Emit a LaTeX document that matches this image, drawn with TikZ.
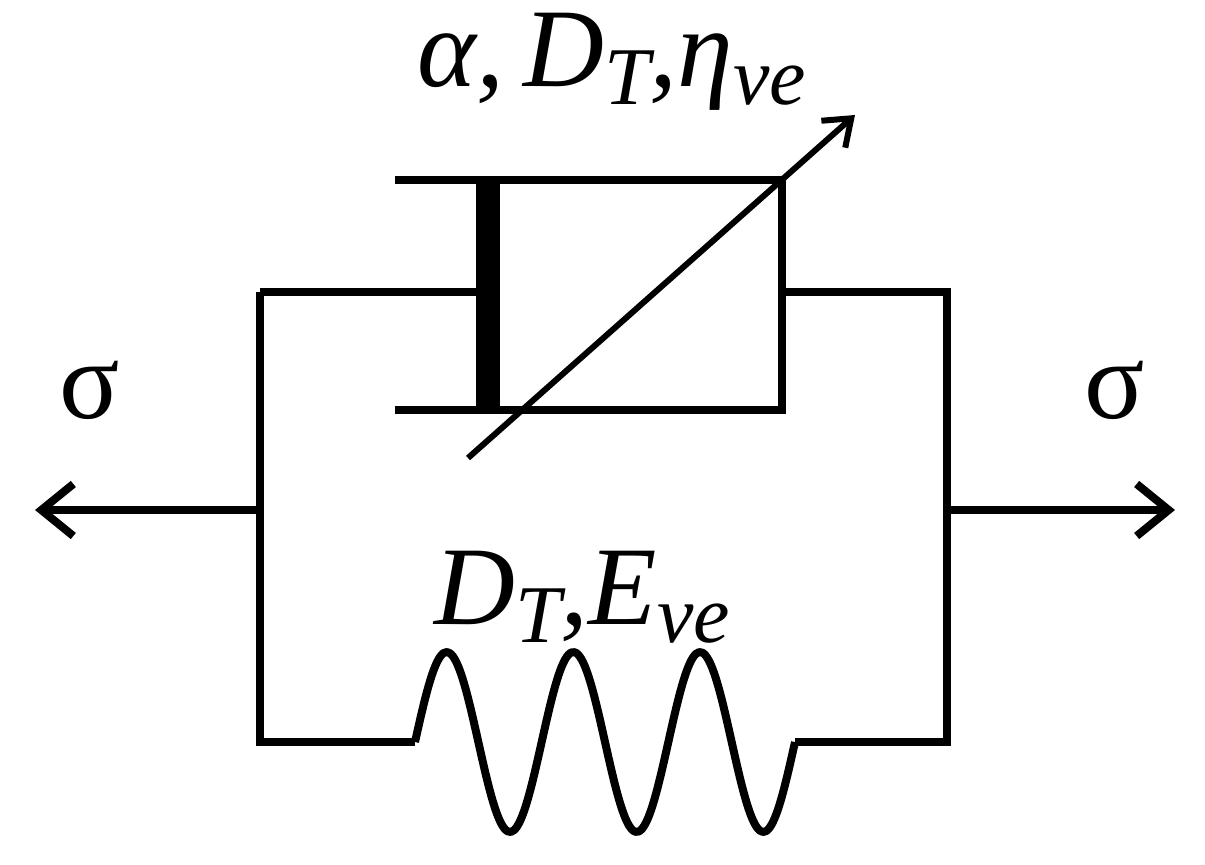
\documentclass[tikz,border=0pt]{standalone}
\usepackage{fontspec}
\setmainfont{Liberation Serif}
\usetikzlibrary{arrows.meta}
\begin{document}
\begin{tikzpicture}[x=0.5pt,y=-0.5pt,line width=4pt,line join=miter]
	\tikzstyle{wire}=[draw=black]
	\tikzstyle{force}=[-{Straight Barb[length=16pt,width=26pt,line width=4pt]}]
	\tikzstyle{lbl}=[font=\fontsize{56}{58}\selectfont, inner sep=0pt]
	\def\sub#1{\raisebox{-0.35ex}{\fontsize{41}{43}\selectfont #1}}
	
	\useasboundingbox (0,0) rectangle (1205,865);
	
	% nodes of the frame
	\coordinate (tl) at (260,292);
	\coordinate (bl) at (260,742);
	\coordinate (tr) at (947,292);
	\coordinate (br) at (947,742);
	\coordinate (pl) at (476,292);
	\coordinate (cr) at (782,292);
	\coordinate (sl) at (415,742);
	\coordinate (sr) at (795,742);
	\coordinate (ml) at (260,510);
	\coordinate (mr) at (947,510);
	\coordinate (al) at (35,510);
	\coordinate (ar) at (1175,510);
	
	% dashpot
	\draw[wire] (tl) -- (pl);
	\fill (476,176) rectangle (500,414);
	\draw[wire] (395,180) -- (782,180) -- (782,410) -- (395,410);
	\draw[wire] (cr) -- (tr) -- (br) -- (sr);
	\draw[wire] (tl) -- (bl) -- (sl);
	\draw[wire, -{Straight Barb[length=12pt,width=18pt,line width=3pt]}, line width=3pt] (468,458) -- (855,115);
	
	% spring
	\draw[wire, line join=round] (sl) -- plot[domain=415:795, samples=120, smooth] (\x,{742-90*sin(2.842*(\x-415))}) -- (sr);
	
	% loads
	\draw[force] (ml) -- (al);
	\draw[force] (mr) -- (ar);
	
	\node[lbl] (s-left)  at (90,390)  {σ};
	\node[lbl] (s-right) at (1115,390) {σ};
	\node[lbl] (eta) at (612,62) {\itshape α,\,D\sub{T},η\sub{ve}};
	\node[lbl] (E) at (582,597) {\itshape D\sub{T},E\sub{ve}};
\end{tikzpicture}
\end{document}
